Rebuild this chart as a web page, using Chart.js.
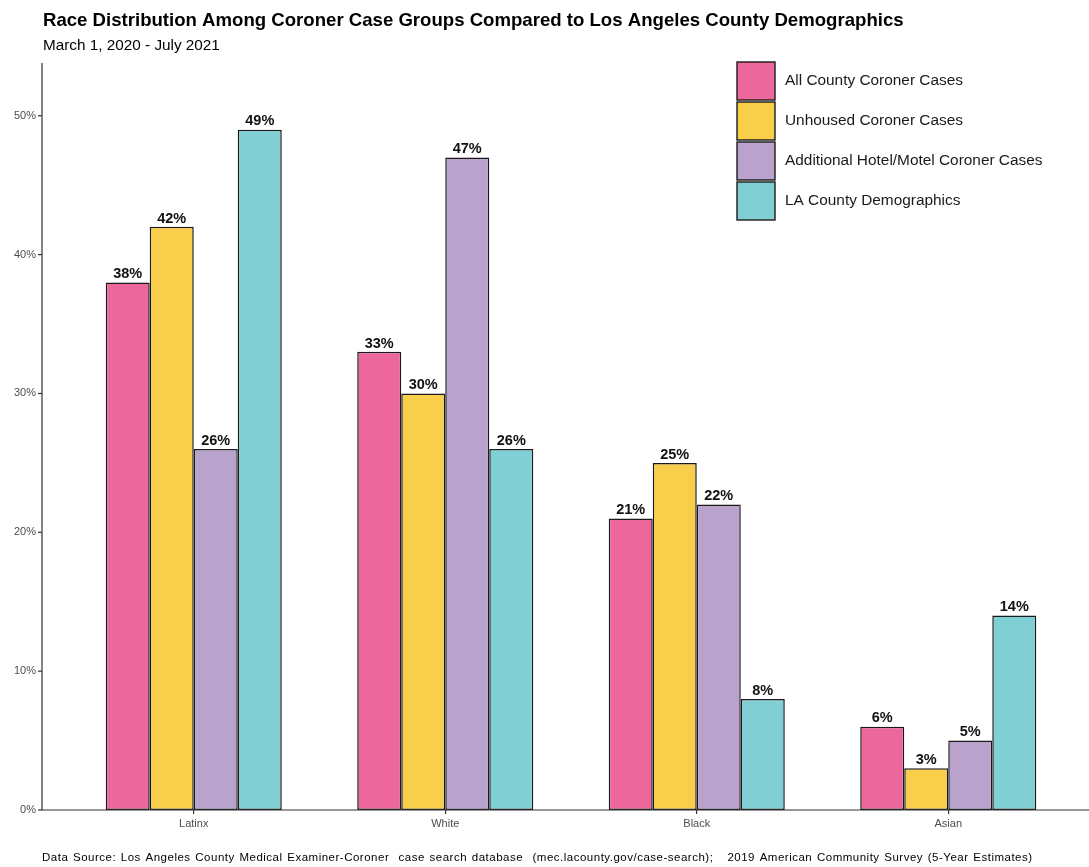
<!DOCTYPE html>
<html>
<head>
<meta charset="utf-8">
<script src="https://cdn.jsdelivr.net/npm/chart.js@4.4.1/dist/chart.umd.min.js"></script>
<style>
  html, body { margin: 0; padding: 0; background: #fff; }
  #wrap { width: 1089px; height: 867px; }
</style>
</head>
<body>
<div id="wrap"><canvas id="raceChart"></canvas></div>
<script>
const categories = ["Latinx", "White", "Black", "Asian"];
const seriesNames = [
  "All County Coroner Cases",
  "Unhoused Coroner Cases",
  "Additional Hotel/Motel Coroner Cases",
  "LA County Demographics"
];
const allCounty = [38, 33, 21, 6];
const unhoused = [42, 30, 25, 3];
const hotelMotel = [26, 47, 22, 5];
const laDemographics = [49, 26, 8, 14];
const yTicks = [0, 10, 20, 30, 40, 50];

const colors = ["#EC679C", "#F8CE4B", "#B9A3CD", "#80CFD4"];
const titleText = "Race Distribution Among Coroner Case Groups Compared to Los Angeles County Demographics";
const subtitleText = "March 1, 2020 - July 2021";
const captionText = "Data Source: Los Angeles County Medical Examiner-Coroner  case search database  (mec.lacounty.gov/case-search);   2019 American Community Survey (5-Year Estimates)";

const FONT = "'Liberation Sans', Arial, Helvetica, sans-serif";

// text, axis lines, value labels and the legend box
const decorations = {
  id: "decorations",
  afterDraw(chart) {
    const ctx = chart.ctx;
    const area = chart.chartArea;
    const yScale = chart.scales.y;
    const axisX = 42;
    ctx.save();

    // title + subtitle
    ctx.fillStyle = "#000";
    ctx.textAlign = "left";
    ctx.textBaseline = "middle";
    ctx.font = "bold 18.6px " + FONT;
    ctx.fillText(titleText, 43, 21);
    ctx.font = "15.3px " + FONT;
    ctx.fillText(subtitleText, 43, 46);

    // axis lines
    ctx.strokeStyle = "#333";
    ctx.lineWidth = 1.2;
    ctx.beginPath();
    ctx.moveTo(axisX, area.top);
    ctx.lineTo(axisX, area.bottom);
    ctx.moveTo(axisX, area.bottom);
    ctx.lineTo(chart.width, area.bottom);
    ctx.stroke();

    // y ticks
    ctx.font = "11px " + FONT;
    ctx.fillStyle = "#4d4d4d";
    ctx.textAlign = "right";
    yTicks.forEach(v => {
      const py = yScale.getPixelForValue(v);
      ctx.beginPath();
      ctx.moveTo(axisX - 4, py);
      ctx.lineTo(axisX, py);
      ctx.stroke();
      ctx.fillText(v + "%", 36, py);
    });

    // value labels
    ctx.font = "bold 14.5px " + FONT;
    ctx.fillStyle = "#111";
    ctx.textAlign = "center";
    ctx.textBaseline = "bottom";
    chart.data.datasets.forEach((ds, i) => {
      chart.getDatasetMeta(i).data.forEach((bar, j) => {
        ctx.fillText(ds.data[j] + "%", bar.x, bar.y - 1);
      });
    });

    // legend
    ctx.textAlign = "left";
    ctx.textBaseline = "middle";
    ctx.font = "15.4px " + FONT;
    chart.data.datasets.forEach((ds, i) => {
      const top = 62 + i * 40;
      ctx.fillStyle = ds.backgroundColor;
      ctx.fillRect(737, top, 38, 38);
      ctx.strokeStyle = "#1a1a1a";
      ctx.lineWidth = 1.4;
      ctx.strokeRect(737, top, 38, 38);
      ctx.fillStyle = "#1a1a1a";
      ctx.fillText(ds.label, 785, top + 19);
    });

    // caption
    ctx.font = "11.5px " + FONT;
    ctx.letterSpacing = "0.5px";
    ctx.wordSpacing = "1px";
    ctx.fillStyle = "#000";
    ctx.fillText(captionText, 42, 858);
    ctx.restore();
  }
};

const seriesData = [allCounty, unhoused, hotelMotel, laDemographics];

new Chart(document.getElementById("raceChart"), {
  type: "bar",
  data: {
    labels: categories,
    datasets: seriesNames.map((name, i) => ({
      label: name,
      data: seriesData[i],
      backgroundColor: colors[i],
      borderColor: "#1a1a1a",
      borderWidth: 1.5,
      borderSkipped: false,
      categoryPercentage: 0.7,
      barPercentage: 1.0
    }))
  },
  options: {
    responsive: true,
    maintainAspectRatio: false,
    animation: false,
    layout: { padding: { top: 63, left: 0, right: 15, bottom: 0 } },
    plugins: {
      legend: { display: false },
      tooltip: { enabled: false }
    },
    scales: {
      x: {
        border: { display: false },
        grid: {
          display: true,
          drawOnChartArea: false,
          offset: false,
          tickLength: 4,
          color: "#333",
          lineWidth: 1.2
        },
        ticks: {
          color: "#4d4d4d",
          font: { size: 11, family: FONT },
          padding: 3
        },
        afterFit(scale) { scale.height = 57; }
      },
      y: {
        min: 0,
        max: 53.8,
        border: { display: false },
        grid: { display: false },
        ticks: { display: false, stepSize: 10, includeBounds: false },
        afterFit(scale) { scale.width = 68; }
      }
    }
  },
  plugins: [decorations]
});
</script>
</body>
</html>
